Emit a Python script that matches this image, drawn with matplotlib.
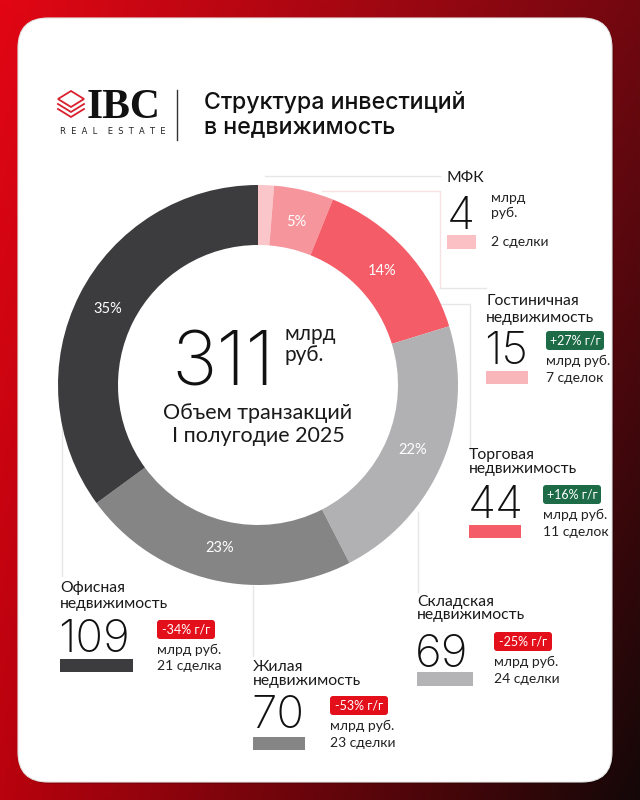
import numpy as np
import matplotlib
matplotlib.use("Agg")
import matplotlib.pyplot as plt
from matplotlib.patches import FancyBboxPatch, Rectangle, Polygon

# ---------------- data ----------------
categories = ["МФК", "Гостиничная недвижимость", "Торговая недвижимость",
              "Складская недвижимость", "Жилая недвижимость", "Офисная недвижимость"]
values = [4, 15, 44, 69, 70, 109]          # млрд руб.
deals = ["2 сделки", "7 сделок", "11 сделок", "24 сделки", "23 сделки", "21 сделка"]
yoy = [None, "+27% г/г", "+16% г/г", "-25% г/г", "-53% г/г", "-34% г/г"]
seg_colors = ["#fac6ca", "#f6959c", "#f45c67", "#b1b1b3", "#858585", "#3c3c3e"]
swatch_colors = ["#fac0c4", "#f8b6bb", "#f45c67", "#b4b4b6", "#858585", "#3c3c3e"]
total = 311
period = "I полугодие 2025"

W, H = 640, 800
fig = plt.figure(figsize=(W / 100, H / 100), dpi=100)

# ---------------- background ----------------
bg = fig.add_axes([0, 0, 1, 1])
bg.set_xlim(0, W)
bg.set_ylim(H, 0)
bg.axis("off")
tl = np.array([0xe2, 0x06, 0x14]) / 255
tr = np.array([0x72, 0x08, 0x10]) / 255
bl = np.array([0xb8, 0x02, 0x0e]) / 255
br = np.array([0x14, 0x08, 0x08]) / 255
u = np.linspace(0, 1, 200)[None, :, None]
v = np.linspace(0, 1, 250)[:, None, None]
grad = (1 - u) * (1 - v) * tl + u * (1 - v) * tr + (1 - u) * v * bl + u * v * br
bg.imshow(grad, extent=[0, W, H, 0], aspect="auto", zorder=0)

shadow = FancyBboxPatch((18 + 2, 18 + 2), 594, 764, boxstyle="round,pad=0,rounding_size=30",
                        fc="#000000", ec="none", alpha=0.15, zorder=1)
bg.add_patch(shadow)
card = FancyBboxPatch((18, 18), 594, 764, boxstyle="round,pad=0,rounding_size=30",
                      fc="white", ec="#e6e6e6", lw=0.8, zorder=2)
bg.add_patch(card)

FONT = "Lato"
NUMF = "Inter"
TXT = "#1a1a1a"

# ---------------- logo & title ----------------
red_logo = "#d8202e"
cx, cy, hw, hh = 71, 99, 13, 8
bg.add_patch(Polygon([(cx - hw, cy), (cx, cy - hh), (cx + hw, cy), (cx, cy + hh)],
                     closed=True, fill=False, ec=red_logo, lw=1.3, zorder=3))
for off in (5, 10):
    bg.plot([cx - hw, cx, cx + hw], [cy + off, cy + hh + off, cy + off],
            color=red_logo, lw=1.3, zorder=3)
bg.text(87, 118, "IBC", family="Liberation Serif", fontweight="bold", fontsize=30,
        color="#111111", ha="left", va="baseline", zorder=3)
bg.text(60, 131, "R  E  A  L    E  S  T  A  T  E", family="DejaVu Sans", fontsize=6.0,
        color="#222222", ha="left", va="center", zorder=3)
bg.plot([177, 177], [90, 140], color="#333333", lw=1.0, zorder=3)
bg.text(204, 102, "Структура инвестиций", family="Inter", fontweight="medium",
        fontsize=16.7, color="#111111", ha="left", va="center", zorder=3)
bg.text(204, 127, "в недвижимость", family="Inter", fontweight="medium",
        fontsize=16.7, color="#111111", ha="left", va="center", zorder=3)

# ---------------- leader lines ----------------
lc = "#e6e6e6"
lcp = "#f6e2e4"
lines = [
    ([265, 440], [176, 176], lc),
    ([322, 440, 440], [191, 191, 288], lcp),
    ([440, 486], [288, 288], lc),
    ([440, 470, 470], [304, 304, 450], lc),
    ([418, 418], [512, 592], lc),
    ([253, 253], [586, 656], lc),
    ([62, 62], [385, 576], lc),
]
for xs, ys, c in lines:
    bg.plot(xs, ys, color=c, lw=1.0, zorder=3)

# ---------------- donut ----------------
R_px = 200
ccx, ccy = 258, 385
pax = fig.add_axes([(ccx - R_px) / W, (H - ccy - R_px) / H, 2 * R_px / W, 2 * R_px / H])
pax.set_zorder(5)
def pct(p):
    return "" if p < 2 else f"{p:.0f}%"
wedges, _, autotexts = pax.pie(values, colors=seg_colors, startangle=90, counterclock=False,
                               radius=1.0, wedgeprops=dict(width=0.3, edgecolor="none"),
                               autopct=pct, pctdistance=0.84,
                               textprops=dict(color="white", fontsize=10.5, family=FONT))
pax.set_xlim(-1, 1)
pax.set_ylim(-1, 1)
pax.set_aspect("auto")
pax.axis("off")

# centre text
tx = fig.add_axes([0, 0, 1, 1])
tx.set_xlim(0, W)
tx.set_ylim(H, 0)
tx.axis("off")
tx.set_zorder(6)
tx.patch.set_alpha(0)
tx.text(171, 385, str(total), family=NUMF, fontweight=200, fontsize=55, color="#111111",
        ha="left", va="baseline")
tx.text(285, 334, "млрд", family=FONT, fontsize=15, color=TXT, ha="left", va="center")
tx.text(285, 355, "руб.", family=FONT, fontsize=15, color=TXT, ha="left", va="center")
tx.text(258, 413, "Объем транзакций", family=FONT, fontsize=15.5, color=TXT, ha="center", va="center")
tx.text(258, 436, period, family=FONT, fontsize=15.5, color=TXT, ha="center", va="center")

# ---------------- category blocks ----------------
blocks = [
    dict(lab=["МФК"], lx=447, ly=[178], nx=447, nb=229, sw=(447, 235, 29, 14),
         sx=491, badge=None, unit=["млрд", "руб."], uy=[198, 213], dy=242),
    dict(lab=["Гостиничная", "недвижимость"], lx=486, ly=[301, 318], nx=484, nb=364,
         sw=(486, 371, 42, 13), sx=546, badge=(546, 331), unit=["млрд руб."], uy=[361], dy=378),
    dict(lab=["Торговая", "недвижимость"], lx=469, ly=[455, 469], nx=468, nb=518,
         sw=(469, 525, 52, 13), sx=543, badge=(543, 485), unit=["млрд руб."], uy=[515], dy=532),
    dict(lab=["Складская", "недвижимость"], lx=417, ly=[602, 615], nx=415, nb=667,
         sw=(417, 672, 56, 14), sx=494, badge=(494, 632), unit=["млрд руб."], uy=[662], dy=679),
    dict(lab=["Жилая", "недвижимость"], lx=253, ly=[667, 681], nx=251, nb=728,
         sw=(253, 737, 52, 13), sx=330, badge=(330, 696), unit=["млрд руб."], uy=[726], dy=743),
    dict(lab=["Офисная", "недвижимость"], lx=60, ly=[588, 604], nx=58, nb=652,
         sw=(60, 659, 73, 13), sx=157, badge=(157, 620), unit=["млрд руб."], uy=[650], dy=666),
]

for i, b in enumerate(blocks):
    for line, y in zip(b["lab"], b["ly"]):
        tx.text(b["lx"], y, line, family=FONT, fontsize=11.3, color=TXT, ha="left", va="center")
    tx.text(b["nx"], b["nb"], str(values[i]), family=NUMF, fontweight=200, fontsize=33,
            color="#111111", ha="left", va="baseline")
    x0, y0, w, h = b["sw"]
    tx.add_patch(Rectangle((x0, y0), w, h, fc=swatch_colors[i], ec="none"))
    for line, y in zip(b["unit"], b["uy"]):
        tx.text(b["sx"], y, line, family=FONT, fontsize=10, color="#222222", ha="left", va="center")
    tx.text(b["sx"], b["dy"], deals[i], family=FONT, fontsize=10, color="#222222",
            ha="left", va="center")
    if b["badge"] is not None:
        bx, by = b["badge"]
        col = "#1d6b47" if yoy[i].startswith("+") else "#e3101c"
        tx.add_patch(FancyBboxPatch((bx, by), 58, 19, boxstyle="round,pad=0,rounding_size=3",
                                    fc=col, ec="none"))
        tx.text(bx + 29, by + 9.5, yoy[i], family=FONT, fontsize=9, color="white",
                ha="center", va="center")

fig.savefig("out.png", dpi=100)
